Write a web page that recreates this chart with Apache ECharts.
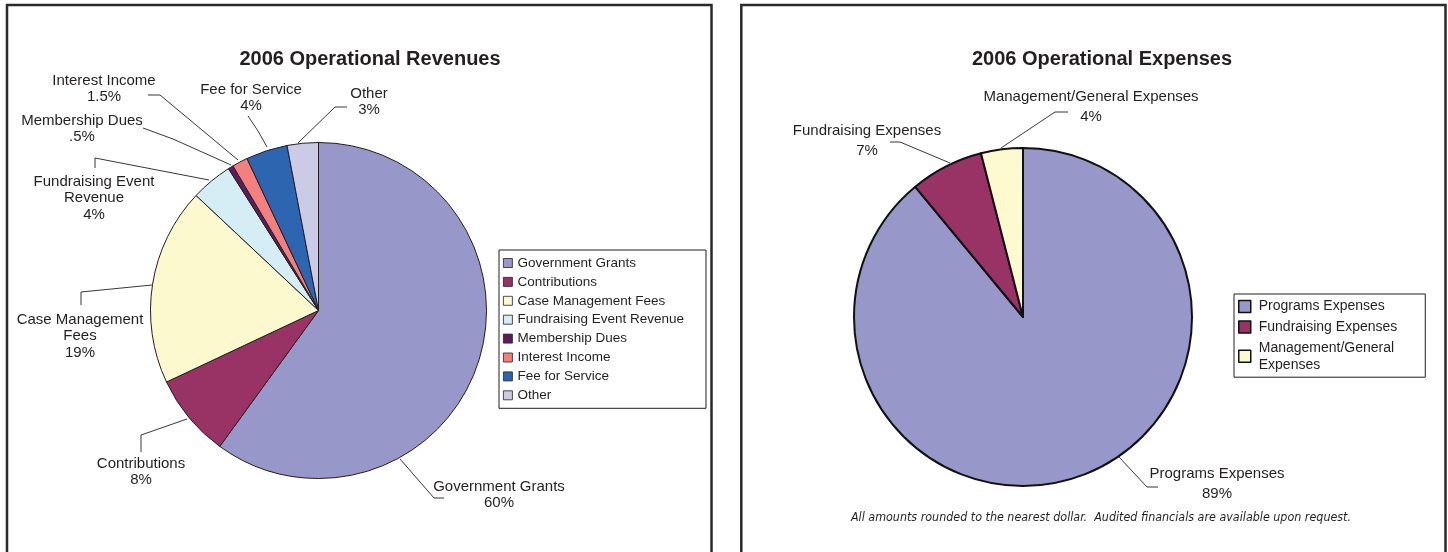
<!DOCTYPE html>
<html>
<head>
<meta charset="utf-8">
<script src="https://cdn.jsdelivr.net/npm/echarts@6/dist/echarts.min.js"></script>
<style>
html,body{margin:0;padding:0;background:#fff;}
#main{width:1448px;height:552px;}
</style>
</head>
<body>
<div id="main"></div>
<script>
// ---------- data ----------
const revTitle = '2006 Operational Revenues';
const revCategories = ['Government Grants','Contributions','Case Management Fees','Fundraising Event Revenue','Membership Dues','Interest Income','Fee for Service','Other'];
const revLabelNames = ['Government Grants','Contributions','Case Management\nFees','Fundraising Event\nRevenue','Membership Dues','Interest Income','Fee for Service','Other'];
const revValues = [60, 8, 19, 4, 0.5, 1.5, 4, 3];

const expTitle = '2006 Operational Expenses';
const expCategories = ['Programs Expenses','Fundraising Expenses','Management/General Expenses'];
const expLegendNames = ['Programs Expenses','Fundraising Expenses','Management/General\nExpenses'];
const expValues = [89, 7, 4];

const footnote = 'All amounts rounded to the nearest dollar.  Audited financials are available upon request.';

// ---------- styles / layout ----------
const revColors = ['#9797c9','#993366','#fcf9cf','#d5eef5','#5b1d5e','#f47f7f','#2d65b0','#cbcbe5'];
const expColors = ['#9797c9','#993366','#fdfacf'];
const ink = '#231f20';

// label anchor (centre of text block) and leader line points, per slice
const revLabelLayout = [
  {x:499, y:495, line:[[400,459],[434,498],[444,498]]},
  {x:141, y:472, line:[[187,419],[141,435],[141,452]]},
  {x:80,  y:336, line:[[152,285],[81,292],[81,305]]},
  {x:94,  y:198, line:[[209,180],[95,158],[95,168]]},
  {x:82,  y:129, line:[[231,165],[173,139],[143,128]]},
  {x:104, y:89,  line:[[238,160],[160,95],[148,95]]},
  {x:251, y:98,  line:[[267,147],[258,131],[248,116]]},
  {x:369, y:102, line:[[298,143],[335,107],[347,107]]}
];
const expLabelLayout = [
  {x:1217, y:484, line:[[1119,457],[1147,487],[1158,487]]},
  {x:867,  y:141, line:[[950,163],[900,142],[890,142]]},
  {x:1091, y:107, line:[[1001,148],[1055,112],[1068,112]]}
];

function fmtPct(v){ return String(v).replace(/^0\./,'.') + '%'; }

const chart = echarts.init(document.getElementById('main'), null, {renderer:'canvas'});

const option = {
  backgroundColor:'#ffffff',
  animation:false,
  graphic:[
    {type:'rect', shape:{x:7, y:5, width:704.5, height:620}, style:{fill:'none', stroke:'#2a2a2a', lineWidth:2.5}, z:-1},
    {type:'rect', shape:{x:741.3, y:5, width:704.2, height:620}, style:{fill:'none', stroke:'#2a2a2a', lineWidth:2.5}, z:-1}
  ],
  title:[
    {text:revTitle, left:370, top:59, textAlign:'center', textVerticalAlign:'middle', padding:0,
     textStyle:{fontFamily:'Liberation Sans', fontWeight:'bold', fontSize:20, color:ink}},
    {text:expTitle, left:1102, top:59, textAlign:'center', textVerticalAlign:'middle', padding:0,
     textStyle:{fontFamily:'Liberation Sans', fontWeight:'bold', fontSize:20, color:ink}},
    {text:footnote, left:1101, top:518, textAlign:'center', textVerticalAlign:'middle', padding:0,
     textStyle:{fontFamily:'DejaVu Sans Condensed, DejaVu Sans', fontStyle:'italic', fontWeight:'normal', fontSize:12.4, color:ink}}
  ],
  legend:[
    {
      seriesIndex:0,
      data:revCategories,
      orient:'vertical',
      left:499, top:250,
      padding:[5,22,5,4],
      itemWidth:9, itemHeight:9, itemGap:2.9,
      icon:'rect',
      backgroundColor:'#fff',
      borderColor:ink, borderWidth:1, borderRadius:0,
      itemStyle:{borderColor:ink, borderWidth:0.8},
      textStyle:{fontFamily:'Liberation Sans', fontSize:13.5, color:ink, lineHeight:16},
      selectedMode:false
    },
    {
      seriesIndex:1,
      data:expCategories,
      orient:'vertical',
      left:1234, top:294,
      padding:[4,28,4,4],
      itemWidth:12, itemHeight:12, itemGap:3.6,
      icon:'rect',
      backgroundColor:'#fff',
      borderColor:ink, borderWidth:1, borderRadius:0,
      itemStyle:{borderColor:'#111', borderWidth:1.5},
      formatter:function(name){ return expLegendNames[expCategories.indexOf(name)]; },
      textStyle:{fontFamily:'Liberation Sans', fontSize:14, color:ink, lineHeight:17, padding:[0,0,0,3]},
      selectedMode:false
    }
  ],
  series:[
    {
      type:'pie',
      center:[318.5,310.5],
      radius:168,
      startAngle:90,
      clockwise:true,
      avoidLabelOverlap:false,
      itemStyle:{borderColor:ink, borderWidth:1},
      label:{show:true, position:'outside', fontFamily:'Liberation Sans', fontSize:15, lineHeight:16.5, color:ink, align:'center',
        formatter:function(p){ return revLabelNames[p.dataIndex] + '\n' + fmtPct(p.value); }},
      labelLine:{show:true, smooth:false, lineStyle:{color:ink, width:0.9}},
      labelLayout:function(p){
        const L = revLabelLayout[p.dataIndex];
        return {x:L.x, y:L.y, align:'center', verticalAlign:'middle', labelLinePoints:L.line};
      },
      emphasis:{disabled:true},
      data:revCategories.map((n,i)=>({name:n, value:revValues[i], itemStyle:{color:revColors[i]}}))
    },
    {
      type:'pie',
      center:[1023,317],
      radius:169,
      startAngle:90,
      clockwise:true,
      avoidLabelOverlap:false,
      itemStyle:{borderColor:'#111', borderWidth:2},
      label:{show:true, position:'outside', fontFamily:'Liberation Sans', fontSize:15, lineHeight:20, color:ink, align:'center',
        formatter:function(p){ return expCategories[p.dataIndex] + '\n' + fmtPct(p.value); }},
      labelLine:{show:true, smooth:false, lineStyle:{color:ink, width:0.9}},
      labelLayout:function(p){
        const L = expLabelLayout[p.dataIndex];
        return {x:L.x, y:L.y, align:'center', verticalAlign:'middle', labelLinePoints:L.line};
      },
      emphasis:{disabled:true},
      data:expCategories.map((n,i)=>({name:n, value:expValues[i], itemStyle:{color:expColors[i]}}))
    }
  ]
};
chart.setOption(option);
</script>
</body>
</html>
